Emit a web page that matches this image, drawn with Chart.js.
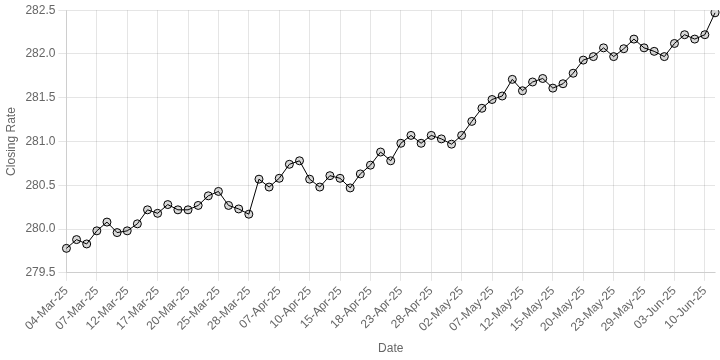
<!DOCTYPE html>
<html>
<head>
<meta charset="utf-8">
<script src="https://cdn.jsdelivr.net/npm/chart.js@4.4.1/dist/chart.umd.min.js"></script>
<style>
    html, body { margin: 0; padding: 0; background: #fff; }
    #wrap { width: 720px; height: 360px; }
</style>
</head>
<body>
<div id="wrap"><canvas id="rateChart" width="720" height="360"></canvas></div>
<script>
// DATA
const dates = [
    "04-Mar-25", "05-Mar-25", "06-Mar-25", "07-Mar-25", "10-Mar-25", "11-Mar-25", "12-Mar-25",
    "13-Mar-25", "14-Mar-25", "17-Mar-25", "18-Mar-25", "19-Mar-25", "20-Mar-25", "21-Mar-25",
    "24-Mar-25", "25-Mar-25", "26-Mar-25", "27-Mar-25", "28-Mar-25", "03-Apr-25", "04-Apr-25",
    "07-Apr-25", "08-Apr-25", "09-Apr-25", "10-Apr-25", "11-Apr-25", "14-Apr-25", "15-Apr-25",
    "16-Apr-25", "17-Apr-25", "18-Apr-25", "21-Apr-25", "22-Apr-25", "23-Apr-25", "24-Apr-25",
    "25-Apr-25", "28-Apr-25", "29-Apr-25", "30-Apr-25", "02-May-25", "05-May-25", "06-May-25",
    "07-May-25", "08-May-25", "09-May-25", "12-May-25", "13-May-25", "14-May-25", "15-May-25",
    "16-May-25", "19-May-25", "20-May-25", "21-May-25", "22-May-25", "23-May-25", "26-May-25",
    "27-May-25", "29-May-25", "30-May-25", "02-Jun-25", "03-Jun-25", "04-Jun-25", "05-Jun-25",
    "10-Jun-25", "11-Jun-25"
];

const closingRates = [
    279.78, 279.88, 279.83, 279.98, 280.08, 279.96, 279.98, 280.06, 280.22, 280.18,
    280.28, 280.22, 280.22, 280.27, 280.38, 280.43, 280.27, 280.23, 280.17, 280.57,
    280.48, 280.58, 280.74, 280.78, 280.57, 280.48, 280.61, 280.58, 280.47, 280.63,
    280.73, 280.88, 280.78, 280.98, 281.07, 280.98, 281.07, 281.03, 280.97, 281.07,
    281.23, 281.38, 281.48, 281.52, 281.71, 281.58, 281.68, 281.72, 281.61, 281.66,
    281.78, 281.93, 281.97, 282.07, 281.97, 282.06, 282.17, 282.07, 282.03, 281.97,
    282.12, 282.22, 282.17, 282.22, 282.47
];

const yTicks = { min: 279.5, max: 282.5, step: 0.5 };

// CHART
Chart.defaults.font.family = "'Liberation Sans', Arial, Helvetica, sans-serif";
Chart.defaults.font.size = 12;
Chart.defaults.color = "#666";

const ctx = document.getElementById("rateChart").getContext("2d");
const chart = new Chart(ctx, {
    type: "line",
    data: {
        labels: dates,
        datasets: [
            {
                label: "Closing Rate",
                data: closingRates,
                borderColor: "#000",
                borderWidth: 1,
                backgroundColor: "rgba(0,0,0,0.15)",
                pointBackgroundColor: "rgba(0,0,0,0.15)",
                pointBorderColor: "#000",
                pointBorderWidth: 1,
                pointRadius: 4,
                tension: 0,
                fill: false,
            },
        ],
    },
    options: {
        responsive: false,
        animation: false,
        plugins: {
            legend: { display: false },
            tooltip: { enabled: false },
        },
        scales: {
            x: {
                offset: false,
                title: { display: true, text: "Date", color: "#666", font: { size: 12 } },
                ticks: { maxRotation: 45, minRotation: 45, autoSkip: true, color: "#666" },
                grid: { color: "rgba(0,0,0,0.1)" },
            },
            y: {
                min: yTicks.min,
                max: yTicks.max,
                title: { display: true, text: "Closing Rate", color: "#666", font: { size: 12 } },
                ticks: {
                    stepSize: yTicks.step,
                    color: "#666",
                    callback: (v) => Number(v).toFixed(1),
                },
                grid: { color: "rgba(0,0,0,0.1)" },
            },
        },
    },
});
</script>
</body>
</html>
